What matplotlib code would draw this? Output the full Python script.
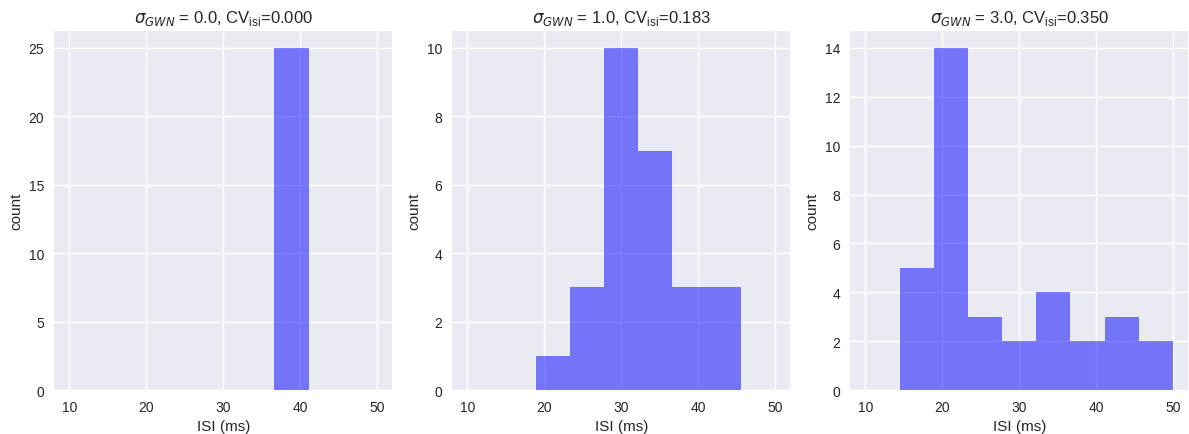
import numpy as np
import matplotlib
matplotlib.use('Agg')
import matplotlib.pyplot as plt

plt.style.use('seaborn-v0_8')
plt.rcParams['font.family'] = ['Liberation Sans', 'DejaVu Sans']
plt.rcParams['mathtext.fontset'] = 'custom'
plt.rcParams['mathtext.rm'] = 'Liberation Sans'
plt.rcParams['mathtext.it'] = 'DejaVu Sans:italic'

# histogram bins shared by all panels (ms)
bin_edges = np.linspace(10, 50, 10)

sigmas = [0.0, 1.0, 3.0]
cvs = [0.000, 0.183, 0.350]

# counts per bin
counts_sigma0 = [0, 0, 0, 0, 0, 0, 25, 0, 0]
counts_sigma1 = [0, 0, 1, 3, 10, 7, 3, 3, 0]
counts_sigma3 = [0, 5, 14, 3, 2, 4, 2, 3, 2]

all_counts = [counts_sigma0, counts_sigma1, counts_sigma3]

fig, axes = plt.subplots(1, 3, figsize=(11.89, 4.35), dpi=100)
centers = (bin_edges[:-1] + bin_edges[1:]) / 2

for ax, sig, cv, counts in zip(axes, sigmas, cvs, all_counts):
    ax.hist(centers, bins=bin_edges, weights=counts, color='blue', alpha=0.5)
    ax.set_title(r'$\sigma_{GWN}$ = %.1f, CV$_{\rm isi}$=%.3f' % (sig, cv))
    ax.set_xlabel('ISI (ms)')
    ax.set_ylabel('count')

plt.subplots_adjust(left=0.0454, right=0.9995, bottom=0.101, top=0.927, wspace=0.176)
plt.savefig('out.png')
